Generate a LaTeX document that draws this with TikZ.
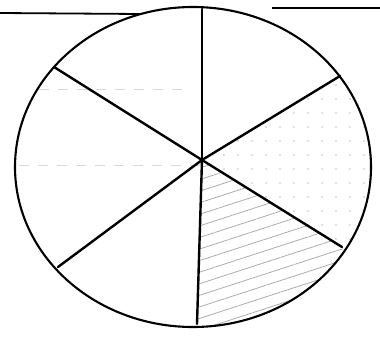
\documentclass[tikz,border=0pt]{standalone}
\usetikzlibrary{patterns.meta}
\begin{document}
\begin{tikzpicture}[x=1pt, y=-1pt,
    rim/.style={line width=2.1pt, line join=round},
    spoke/.style={line width=2.4pt, line cap=round},
    rule/.style={line width=1.8pt},
    faint/.style={gray!30, line width=0.9pt, dash pattern=on 10pt off 9pt},
    hatchA/.style={pattern={Lines[angle=18, distance=11pt, line width=0.8pt]}, pattern color=gray!65},
    hatchB/.style={pattern={Dots[distance=14pt, radius=0.8pt]}, pattern color=gray!50}]

    \useasboundingbox (0,0) rectangle (380,337);

    \coordinate (c) at (202,160);
    \coordinate (top) at (202,9);
    \coordinate (bot) at (197,324);
    \coordinate (ul) at (54,67);
    \coordinate (ur) at (340,76);
    \coordinate (ll) at (58,267);
    \coordinate (lr) at (342,247);

    \begin{scope}
    \clip (193,167) ellipse [x radius=178, y radius=160];
    \fill[hatchA] (c) -- (lr) -- (380,300) -- (380,340) -- (bot) -- cycle;
    \fill[hatchB] (c) -- (ur) -- (390,60) -- (390,260) -- (lr) -- cycle;
    \draw[faint] (0,165) -- (200,165);
    \draw[faint] (20,89) -- (185,89);
    \end{scope}

    \draw[rule] (0,13) -- (140,14);
    \draw[rule] (272,8) -- (380,8);

    \draw[rim] (193,167) ellipse [x radius=178, y radius=160];

    \foreach \p in {top,bot,ul,ur,ll,lr}
        \draw[spoke] (c) -- (\p);
\end{tikzpicture}
\end{document}
